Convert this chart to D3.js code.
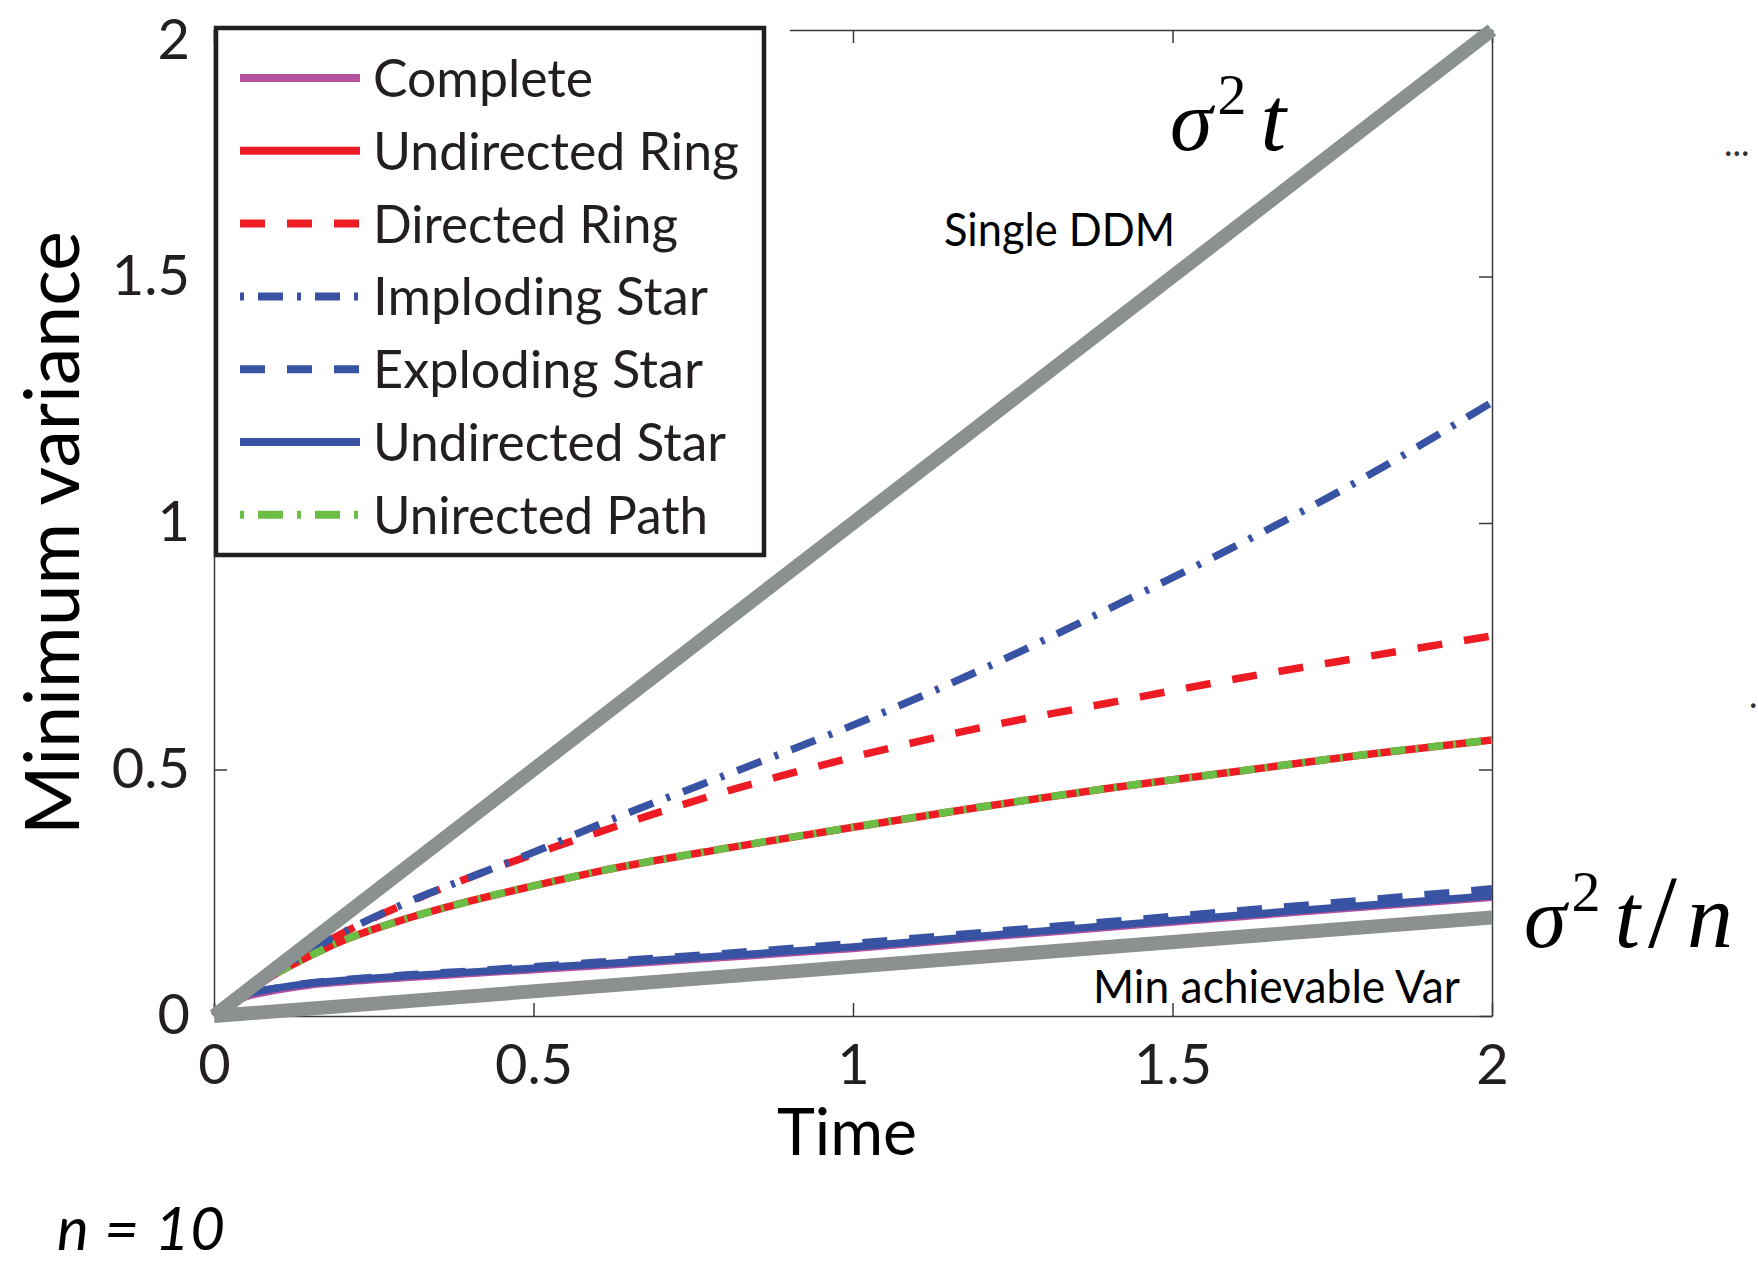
<!DOCTYPE html>
<html>
<head>
<meta charset="utf-8">
<script src="https://cdn.jsdelivr.net/npm/d3@7"></script>
<style>
  body { margin: 0; background: #fff; }
  svg { display: block; }
</style>
</head>
<body>
<div id="chart"></div>
<script>
// ---- data (time on x, minimum variance on y) ----
var tGrid         = [0, 0.02, 0.05, 0.1, 0.15, 0.2, 0.3, 0.4, 0.5, 0.6, 0.8, 1.0, 1.2, 1.4, 1.6, 1.8, 2.0];
var completeVals  = [0, 0.022, 0.039, 0.053, 0.063, 0.069, 0.078, 0.086, 0.094, 0.102, 0.119, 0.137, 0.159, 0.180, 0.201, 0.221, 0.241];
var undirRingVals = [0, 0.019, 0.046, 0.088, 0.122, 0.152, 0.197, 0.233, 0.264, 0.293, 0.340, 0.383, 0.424, 0.462, 0.496, 0.530, 0.560];
var dirRingVals   = [0, 0.019, 0.047, 0.090, 0.130, 0.167, 0.228, 0.281, 0.328, 0.372, 0.455, 0.525, 0.585, 0.635, 0.684, 0.728, 0.771];
var implodingVals = [0, 0.019, 0.047, 0.091, 0.132, 0.168, 0.229, 0.281, 0.332, 0.387, 0.488, 0.590, 0.702, 0.826, 0.954, 1.092, 1.245];
var explodingVals = [0, 0.024, 0.043, 0.057, 0.067, 0.073, 0.083, 0.091, 0.100, 0.109, 0.127, 0.147, 0.169, 0.191, 0.213, 0.235, 0.258];
var undirStarVals = [0, 0.024, 0.043, 0.057, 0.066, 0.072, 0.081, 0.089, 0.097, 0.105, 0.122, 0.140, 0.162, 0.183, 0.204, 0.224, 0.244];
var undirPathVals = [0, 0.019, 0.046, 0.088, 0.122, 0.152, 0.197, 0.233, 0.264, 0.293, 0.340, 0.383, 0.424, 0.462, 0.496, 0.530, 0.560];

// bounds: single DDM (sigma^2 t) and min achievable (sigma^2 t / n)
var boundT        = [0, 2];
var singleDDMVals = [0, 2];
var minVarVals    = [0, 0.2];

var xTicks = [0, 0.5, 1, 1.5, 2];
var yTicks = [0, 0.5, 1, 1.5, 2];

var legendNames = ["Complete", "Undirected Ring", "Directed Ring", "Imploding Star",
                   "Exploding Star", "Undirected Star", "Unirected Path"];

// ---- styles ----
var gray = "#8b9190";
var red = "#ed1c24", blue = "#3953a4", green = "#6abd45", magenta = "#b5529f";
var ink = "#231f20";
var sans = "Lato, 'Open Sans', sans-serif";
var serif = "'Liberation Serif', 'DejaVu Serif', serif";

// drawing order for the curves (legend order kept separately)
var series = [
  {name: "Complete",        vals: completeVals,  color: magenta, dash: null,         legDash: null,         legW: 220},
  {name: "Undirected Ring", vals: undirRingVals, color: red,     dash: null,         legDash: null,         legW: 366},
  {name: "Directed Ring",   vals: dirRingVals,   color: red,     dash: "25 22",      legDash: "25 22",      legW: 305},
  {name: "Imploding Star",  vals: implodingVals, color: blue,    dash: "26 14 4 14", legDash: "4 14 25 14", legW: 335},
  {name: "Exploding Star",  vals: explodingVals, color: blue,    dash: "25 22",      legDash: "25 22",      legW: 330},
  {name: "Undirected Star", vals: undirStarVals, color: blue,    dash: null,         legDash: null,         legW: 353},
  {name: "Unirected Path",  vals: undirPathVals, color: green,   dash: "15 10 3 10", legDash: "4 14 25 14", legW: 335}
];

// set the dimensions and margins of the graph
var W = 1758, H = 1262;
var margin = {top: 30, right: 266, bottom: 246, left: 214};
var width = W - margin.left - margin.right;
var height = H - margin.top - margin.bottom;

var svg = d3.select("#chart")
  .append("svg")
  .attr("width", W)
  .attr("height", H)
  .style("font-family", sans);

var g = svg.append("g")
  .attr("transform", "translate(" + margin.left + "," + margin.top + ")");

var x = d3.scaleLinear().domain([0, 2]).range([0, width]);
var y = d3.scaleLinear().domain([0, 2]).range([height, 0]);

function fit(sel, w) {
  return sel.attr("textLength", w).attr("lengthAdjust", "spacingAndGlyphs");
}

function styleAxis(ax) {
  ax.attr("font-family", sans).attr("font-size", 56);
  ax.select(".domain").attr("stroke", "#3a3a3a").attr("stroke-width", 1.5);
  ax.selectAll(".tick line").attr("stroke", "#3a3a3a").attr("stroke-width", 1.5);
  ax.selectAll(".tick text").attr("fill", ink);
}

// Build X axes (bottom with labels, top ticks only)
var xb = g.append("g")
  .attr("transform", "translate(0," + height + ")")
  .call(d3.axisBottom(x).tickValues(xTicks).tickSizeInner(-13).tickSizeOuter(0)
        .tickPadding(28).tickFormat(d3.format("")));
styleAxis(xb);

var xt = g.append("g")
  .call(d3.axisTop(x).tickValues(xTicks).tickSizeInner(-13).tickSizeOuter(0).tickFormat(""));
styleAxis(xt);

// Build Y axes
var yl = g.append("g")
  .call(d3.axisLeft(y).tickValues(yTicks).tickSizeInner(-13).tickSizeOuter(0)
        .tickPadding(24).tickFormat(d3.format("")));
styleAxis(yl);
// keep the top label inside the page
yl.selectAll(".tick text").filter(function (d) { return d === 2; }).attr("dy", "0.5em");

var yr = g.append("g")
  .attr("transform", "translate(" + width + ",0)")
  .call(d3.axisRight(y).tickValues(yTicks).tickSizeInner(-13).tickSizeOuter(0).tickFormat(""));
styleAxis(yr);

// curves
var line = d3.line()
  .x(function (d) { return x(d[0]); })
  .y(function (d) { return y(d[1]); })
  .curve(d3.curveMonotoneX);

series.forEach(function (s) {
  var pts = tGrid.map(function (t, i) { return [t, s.vals[i]]; });
  g.append("path")
    .datum(pts)
    .attr("d", line)
    .attr("fill", "none")
    .attr("stroke", s.color)
    .attr("stroke-width", 7.5)
    .attr("stroke-dasharray", s.dash)
    .attr("stroke-linecap", "butt");
});

// gray bounds on top
[singleDDMVals, minVarVals].forEach(function (vals) {
  g.append("path")
    .datum(boundT.map(function (t, i) { return [t, vals[i]]; }))
    .attr("d", d3.line().x(function (d) { return x(d[0]); }).y(function (d) { return y(d[1]); }))
    .attr("fill", "none")
    .attr("stroke", gray)
    .attr("stroke-width", 14);
});

// legend
var leg = svg.append("g");
leg.append("rect")
  .attr("x", 216).attr("y", 20).attr("width", 574).attr("height", 537)
  .attr("fill", "#fff");
leg.append("rect")
  .attr("x", 216).attr("y", 28).attr("width", 548).attr("height", 527)
  .attr("fill", "#fff").attr("stroke", ink).attr("stroke-width", 4.5);

var legY0 = 78, legStep = 72.8;
legendNames.forEach(function (name, i) {
  var s = series.filter(function (d) { return d.name === name; })[0];
  var yy = legY0 + i * legStep;
  leg.append("line")
    .attr("x1", 240).attr("x2", 360).attr("y1", yy).attr("y2", yy)
    .attr("stroke", s.color).attr("stroke-width", 8)
    .attr("stroke-dasharray", s.legDash);
  fit(leg.append("text")
    .attr("x", 373).attr("y", yy + 19)
    .attr("font-size", 52).attr("fill", ink)
    .text(name), s.legW);
});

// axis titles
fit(svg.append("text")
  .attr("x", 777).attr("y", 1155)
  .attr("font-size", 65).attr("fill", "#000")
  .text("Time"), 140);

svg.append("text")
  .attr("transform", "translate(79,533) rotate(-90)")
  .attr("text-anchor", "middle").attr("font-size", 75).attr("fill", "#000")
  .text("Minimum variance");

// annotations
fit(svg.append("text")
  .attr("x", 944).attr("y", 246).attr("font-size", 46).attr("fill", "#000")
  .text("Single DDM"), 231);

fit(svg.append("text")
  .attr("x", 1093).attr("y", 1003).attr("font-size", 46).attr("fill", "#000")
  .text("Min achievable Var"), 367);

function mathLabel(xp, yp, parts) {
  var t = svg.append("text")
    .attr("x", xp).attr("y", yp)
    .attr("font-family", serif).attr("font-size", 86).attr("fill", "#000");
  parts.forEach(function (p) {
    var ts = t.append("tspan").text(p.s);
    if (p.italic) ts.attr("font-style", "italic");
    if (p.sup) ts.attr("font-size", 58).attr("dy", -36);
    if (p.down) ts.attr("dy", 36);
    if (p.size) ts.attr("font-size", p.size);
    if (p.dx) ts.attr("dx", p.dx);
  });
  return t;
}
mathLabel(1170, 150, [{s: "σ", italic: true}, {s: "2", sup: true, dx: 5},
                      {s: "t", italic: true, down: true, dx: 14, size: 92}]);
mathLabel(1524, 947, [{s: "σ", italic: true}, {s: "2", sup: true, dx: 5},
                      {s: "t", italic: true, down: true, dx: 14, size: 92},
                      {s: "/", dx: 8, size: 104}, {s: "n", italic: true, dx: 10, size: 92}]);

// panel label
svg.append("text")
  .attr("x", 57).attr("y", 1250).attr("font-size", 60).attr("font-style", "italic").attr("fill", "#000")
  .attr("textLength", 168).attr("lengthAdjust", "spacing")
  .text("n = 10");

// fragments of the neighbouring panel at the right edge
svg.append("text").attr("x", 1724).attr("y", 156).attr("font-size", 36).attr("fill", "#333").text("...");
svg.append("text").attr("x", 1749).attr("y", 708).attr("font-size", 36).attr("fill", "#333").text(".");
</script>
</body>
</html>
